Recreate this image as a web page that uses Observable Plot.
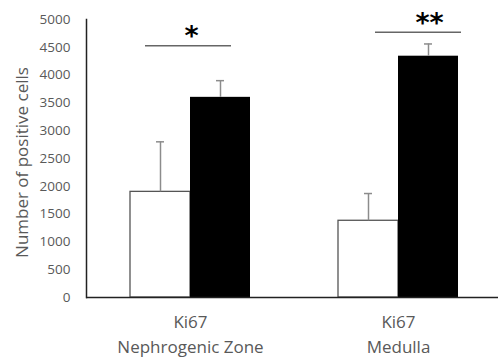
<!DOCTYPE html>
<html>
<head>
<meta charset="utf-8">
<script src="https://cdn.jsdelivr.net/npm/d3@7"></script>
<script src="https://cdn.jsdelivr.net/npm/@observablehq/plot@0.6"></script>
<style>
  html, body { margin: 0; padding: 0; background: #fff; }
</style>
</head>
<body>
<div id="chart"></div>
<script>
const categories = ["Nephrogenic Zone", "Medulla"];
const marker = "Ki67";
const controlMeans = [1900, 1380];
const controlErr = [900, 490];
const treatedMeans = [3600, 4340];
const treatedErr = [300, 220];
const yTicks = [0, 500, 1000, 1500, 2000, 2500, 3000, 3500, 4000, 4500, 5000];
const yLabel = "Number of positive cells";
const sigLabels = ["*", "**"];
const sigLineY = [4530, 4770];
const sigStarY = [4690, 4930];

const ctrl = categories.map((c, i) => ({cat: c, v: controlMeans[i], e: controlErr[i]}));
const treat = categories.map((c, i) => ({cat: c, v: treatedMeans[i], e: treatedErr[i]}));
const sig = categories.map((c, i) => ({cat: c, line: sigLineY[i], star: sigStarY[i], label: sigLabels[i]}));

const textColor = "#595959";
const errColor = "#8c8c8c";

const chart = Plot.plot({
  width: 498,
  height: 359,
  marginTop: 19,
  marginLeft: 86,
  marginRight: 0,
  marginBottom: 62,
  style: {fontFamily: "Open Sans", background: "white"},
  x: {domain: categories, range: [86, 502], padding: 0, axis: null},
  y: {domain: [0, 5000], axis: null},
  marks: [
    Plot.barY(ctrl, {x: "cat", y: "v", fill: "white", stroke: "#555", strokeWidth: 1.3, insetLeft: 44, insetRight: 104}),
    Plot.barY(treat, {x: "cat", y: "v", fill: "black", insetLeft: 104, insetRight: 44}),
    Plot.ruleX(ctrl, {x: "cat", y1: "v", y2: d => d.v + d.e, dx: -30, stroke: errColor, strokeWidth: 1.5}),
    Plot.ruleX(treat, {x: "cat", y1: "v", y2: d => d.v + d.e, dx: 30, stroke: errColor, strokeWidth: 1.5}),
    Plot.tickY(ctrl, {x: "cat", y: d => d.v + d.e, insetLeft: 70, insetRight: 130, stroke: errColor, strokeWidth: 1.5}),
    Plot.tickY(treat, {x: "cat", y: d => d.v + d.e, insetLeft: 130, insetRight: 70, stroke: errColor, strokeWidth: 1.5}),
    Plot.tickY(sig.slice(0, 1), {x: "cat", y: "line", insetLeft: 59, insetRight: 63, stroke: "#666", strokeWidth: 1.5}),
    Plot.tickY(sig.slice(1, 2), {x: "cat", y: "line", insetLeft: 81, insetRight: 41, stroke: "#666", strokeWidth: 1.5}),
    Plot.text(sig.slice(0, 1), {x: "cat", y: "star", text: "label", dx: 1, fontSize: 27, fontWeight: "bold", fontFamily: "DejaVu Sans", fill: "black", lineAnchor: "middle"}),
    Plot.text(sig.slice(1, 2), {x: "cat", y: "star", text: "label", dx: 31, fontSize: 27, fontWeight: "bold", fontFamily: "DejaVu Sans", fill: "black", lineAnchor: "middle"}),
    Plot.frame({anchor: "left", stroke: "#222", strokeWidth: 1.5}),
    Plot.ruleY([0], {stroke: "#222", strokeWidth: 1.5}),
    Plot.axisY({ticks: yTicks, tickSize: 0, tickPadding: 16, tickFormat: d => String(d), fontSize: 13.5, color: textColor, label: null}),
    Plot.axisX({tickSize: 0, tickPadding: 12, tickFormat: d => marker + "\n" + d, fontSize: 17, lineHeight: 1.5, color: textColor, label: null}),
    Plot.text([yLabel], {frameAnchor: "left", rotate: -90, dx: -64, dy: 4, fontSize: 17, fill: textColor, textAnchor: "middle", lineAnchor: "middle"})
  ]
});
document.getElementById("chart").appendChild(chart);
</script>
</body>
</html>
